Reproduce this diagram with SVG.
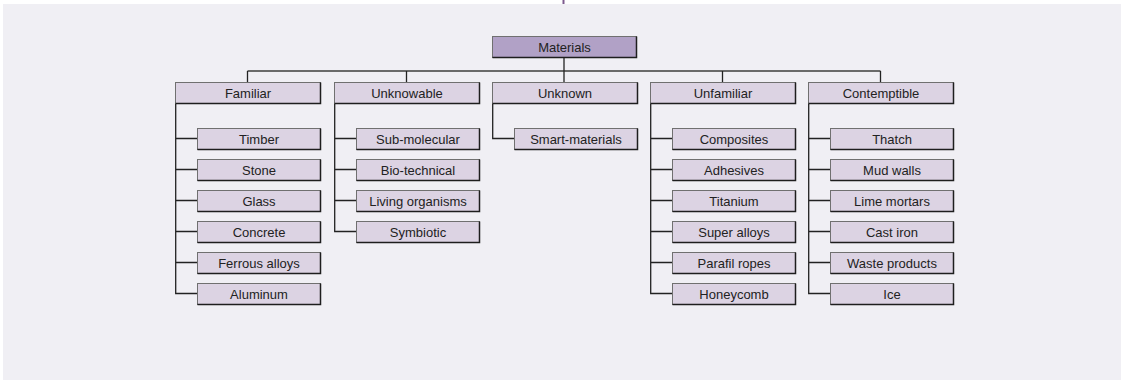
<svg xmlns="http://www.w3.org/2000/svg" width="1125" height="380" viewBox="0 0 1125 380">
<style>
.box{fill:#dcd3e3;stroke:#707070;stroke-width:1}
.root{fill:#b1a1c6;stroke:#707070;stroke-width:1}
.sh{fill:none;stroke:#1e1e1e;stroke-width:1.5}
.t{font-family:"Liberation Sans",Arial,sans-serif;font-size:13px;fill:#222;text-anchor:middle}
.c{fill:none;stroke:#222;stroke-width:1.3}
.bus{fill:none;stroke:#6a6a6a;stroke-width:2}
</style>
<rect x="0" y="0" width="1125" height="380" fill="#ffffff"/>
<rect x="3" y="4" width="1118" height="376" fill="#f0eff4"/>
<line x1="563.5" y1="0" x2="563.5" y2="4" stroke="#7d5a8e" stroke-width="2"/>
<g id="connectors">
<path class="bus" d="M247.5 71 H880.5"/>
<path class="c" d="M564 57.5 V82"/>
<path class="c" d="M247.5 71 V82 M406.5 71 V82 M722.5 71 V82 M880.5 71 V82"/>
<path class="c" d="M175.7 103 V293.5 H197 M175.7 138.5 H197 M175.7 169.5 H197 M175.7 200.5 H197 M175.7 231.5 H197 M175.7 262.5 H197"/>
<path class="c" d="M334.7 103 V231.5 H356 M334.7 138.5 H356 M334.7 169.5 H356 M334.7 200.5 H356"/>
<path class="c" d="M492.7 103 V138.5 H514"/>
<path class="c" d="M650.7 103 V293.5 H672 M650.7 138.5 H672 M650.7 169.5 H672 M650.7 200.5 H672 M650.7 231.5 H672 M650.7 262.5 H672"/>
<path class="c" d="M808.7 103 V293.5 H830 M808.7 138.5 H830 M808.7 169.5 H830 M808.7 200.5 H830 M808.7 231.5 H830 M808.7 262.5 H830"/>
</g>
<g id="materials"><rect class="root" x="492.5" y="36.5" width="144" height="21"/><path class="sh" d="M492.5 57.5 H636.5 V36.5"/><text class="t" x="564.5" y="52">Materials</text></g>
<g id="familiar"><rect class="box" x="175.5" y="82.5" width="145" height="21"/><path class="sh" d="M175.5 103.5 H320.5 V82.5"/><text class="t" x="248" y="98">Familiar</text></g>
<g id="unknowable"><rect class="box" x="334.5" y="82.5" width="145" height="21"/><path class="sh" d="M334.5 103.5 H479.5 V82.5"/><text class="t" x="407" y="98">Unknowable</text></g>
<g id="unknown"><rect class="box" x="492.5" y="82.5" width="145" height="21"/><path class="sh" d="M492.5 103.5 H637.5 V82.5"/><text class="t" x="565" y="98">Unknown</text></g>
<g id="unfamiliar"><rect class="box" x="650.5" y="82.5" width="145" height="21"/><path class="sh" d="M650.5 103.5 H795.5 V82.5"/><text class="t" x="723" y="98">Unfamiliar</text></g>
<g id="contemptible"><rect class="box" x="808.5" y="82.5" width="145" height="21"/><path class="sh" d="M808.5 103.5 H953.5 V82.5"/><text class="t" x="881" y="98">Contemptible</text></g>

<g id="timber"><rect class="box" x="197.5" y="128.5" width="123" height="21"/><path class="sh" d="M197.5 149.5 H320.5 V128.5"/><text class="t" x="259" y="144">Timber</text></g>
<g id="stone"><rect class="box" x="197.5" y="159.5" width="123" height="21"/><path class="sh" d="M197.5 180.5 H320.5 V159.5"/><text class="t" x="259" y="175">Stone</text></g>
<g id="glass"><rect class="box" x="197.5" y="190.5" width="123" height="21"/><path class="sh" d="M197.5 211.5 H320.5 V190.5"/><text class="t" x="259" y="206">Glass</text></g>
<g id="concrete"><rect class="box" x="197.5" y="221.5" width="123" height="21"/><path class="sh" d="M197.5 242.5 H320.5 V221.5"/><text class="t" x="259" y="237">Concrete</text></g>
<g id="ferrous"><rect class="box" x="197.5" y="252.5" width="123" height="21"/><path class="sh" d="M197.5 273.5 H320.5 V252.5"/><text class="t" x="259" y="268">Ferrous alloys</text></g>
<g id="aluminum"><rect class="box" x="197.5" y="283.5" width="123" height="21"/><path class="sh" d="M197.5 304.5 H320.5 V283.5"/><text class="t" x="259" y="299">Aluminum</text></g>

<g id="submolecular"><rect class="box" x="356.5" y="128.5" width="123" height="21"/><path class="sh" d="M356.5 149.5 H479.5 V128.5"/><text class="t" x="418" y="144">Sub-molecular</text></g>
<g id="biotechnical"><rect class="box" x="356.5" y="159.5" width="123" height="21"/><path class="sh" d="M356.5 180.5 H479.5 V159.5"/><text class="t" x="418" y="175">Bio-technical</text></g>
<g id="living"><rect class="box" x="356.5" y="190.5" width="123" height="21"/><path class="sh" d="M356.5 211.5 H479.5 V190.5"/><text class="t" x="418" y="206">Living organisms</text></g>
<g id="symbiotic"><rect class="box" x="356.5" y="221.5" width="123" height="21"/><path class="sh" d="M356.5 242.5 H479.5 V221.5"/><text class="t" x="418" y="237">Symbiotic</text></g>

<g id="smart"><rect class="box" x="514.5" y="128.5" width="123" height="21"/><path class="sh" d="M514.5 149.5 H637.5 V128.5"/><text class="t" x="576" y="144">Smart-materials</text></g>

<g id="composites"><rect class="box" x="672.5" y="128.5" width="123" height="21"/><path class="sh" d="M672.5 149.5 H795.5 V128.5"/><text class="t" x="734" y="144">Composites</text></g>
<g id="adhesives"><rect class="box" x="672.5" y="159.5" width="123" height="21"/><path class="sh" d="M672.5 180.5 H795.5 V159.5"/><text class="t" x="734" y="175">Adhesives</text></g>
<g id="titanium"><rect class="box" x="672.5" y="190.5" width="123" height="21"/><path class="sh" d="M672.5 211.5 H795.5 V190.5"/><text class="t" x="734" y="206">Titanium</text></g>
<g id="superalloys"><rect class="box" x="672.5" y="221.5" width="123" height="21"/><path class="sh" d="M672.5 242.5 H795.5 V221.5"/><text class="t" x="734" y="237">Super alloys</text></g>
<g id="parafil"><rect class="box" x="672.5" y="252.5" width="123" height="21"/><path class="sh" d="M672.5 273.5 H795.5 V252.5"/><text class="t" x="734" y="268">Parafil ropes</text></g>
<g id="honeycomb"><rect class="box" x="672.5" y="283.5" width="123" height="21"/><path class="sh" d="M672.5 304.5 H795.5 V283.5"/><text class="t" x="734" y="299">Honeycomb</text></g>

<g id="thatch"><rect class="box" x="830.5" y="128.5" width="123" height="21"/><path class="sh" d="M830.5 149.5 H953.5 V128.5"/><text class="t" x="892" y="144">Thatch</text></g>
<g id="mudwalls"><rect class="box" x="830.5" y="159.5" width="123" height="21"/><path class="sh" d="M830.5 180.5 H953.5 V159.5"/><text class="t" x="892" y="175">Mud walls</text></g>
<g id="limemortars"><rect class="box" x="830.5" y="190.5" width="123" height="21"/><path class="sh" d="M830.5 211.5 H953.5 V190.5"/><text class="t" x="892" y="206">Lime mortars</text></g>
<g id="castiron"><rect class="box" x="830.5" y="221.5" width="123" height="21"/><path class="sh" d="M830.5 242.5 H953.5 V221.5"/><text class="t" x="892" y="237">Cast iron</text></g>
<g id="waste"><rect class="box" x="830.5" y="252.5" width="123" height="21"/><path class="sh" d="M830.5 273.5 H953.5 V252.5"/><text class="t" x="892" y="268">Waste products</text></g>
<g id="ice"><rect class="box" x="830.5" y="283.5" width="123" height="21"/><path class="sh" d="M830.5 304.5 H953.5 V283.5"/><text class="t" x="892" y="299">Ice</text></g>
</svg>
